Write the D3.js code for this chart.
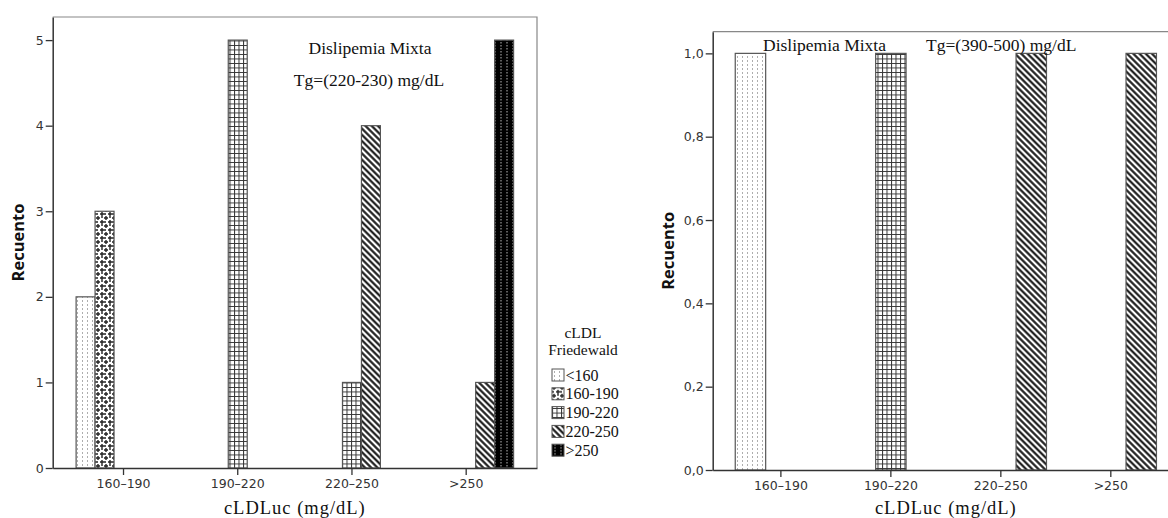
<!DOCTYPE html>
<html>
<head>
<meta charset="utf-8">
<script src="https://cdn.jsdelivr.net/npm/d3@7"></script>
<style>
    body { margin: 0; background: #fff; }
    svg { display: block; }
    .tick text { font-family: "DejaVu Sans", sans-serif; font-size: 12.5px; fill: #333; }
    .serif { font-family: "Liberation Serif", "Times New Roman", serif; fill: #111; }
    .ylab { font-family: "Open Sans", "DejaVu Sans", sans-serif; font-weight: bold; font-size: 16.5px; fill: #111; }
</style>
</head>
<body>
<div id="chart"></div>
<script>

var cldlCats = ["160-190", "190-220", "220-250", ">250"];
var cldlTickLabels = ["160\u2013190", "190\u2013220", "220\u2013250", ">250"];

// Friedewald groups (legend / fill)
var friedewaldLeft = ["<160", "160-190", "190-220", "220-250", ">250"];
var friedewaldRight = ["<160", "190-220", "220-250"];

// Tg=(220-230)
var leftLt160 = [2, 0, 0, 0];
var left160 = [3, 0, 0, 0];
var left190 = [0, 5, 1, 0];
var left220 = [0, 0, 4, 1];
var left250 = [0, 0, 0, 5];

// Tg=(390-500)
var rightLt160 = [1, 0, 0, 0];
var right190 = [0, 1, 0, 0];
var right220 = [0, 0, 1, 1];

var yTicksLeft = [0, 1, 2, 3, 4, 5];
var yTicksRight = [0, 0.2, 0.4, 0.6, 0.8, 1.0];

var patternOf = {"<160": "p-lt160", "160-190": "p-160", "190-220": "p-190", "220-250": "p-220", ">250": "p-250"};

var svg = d3.select("#chart").append("svg").attr("width", 1168).attr("height", 518);

/***********************************************************************************************************/
function makePatterns(svg) {
    var defs = svg.append("defs");

    var p = defs.append("pattern").attr("id", "p-lt160").attr("patternUnits", "userSpaceOnUse")
        .attr("width", 5).attr("height", 4);
    p.append("rect").attr("width", 5).attr("height", 4).attr("fill", "#fff");
    p.append("line").attr("x1", 2.5).attr("x2", 2.5).attr("y1", 0).attr("y2", 4)
        .attr("stroke", "#999").attr("stroke-width", 0.8).attr("stroke-dasharray", "2,2");

    p = defs.append("pattern").attr("id", "p-160").attr("patternUnits", "userSpaceOnUse")
        .attr("width", 8).attr("height", 8);
    p.append("rect").attr("width", 8).attr("height", 8).attr("fill", "#fff");
    [[2, 2], [6, 6]].forEach(function(c){
        p.append("path").attr("d", "M" + (c[0] - 2) + "," + c[1] + "h4M" + c[0] + "," + (c[1] - 2) + "v4")
            .attr("stroke", "#222").attr("stroke-width", 1.4);
    });
    p.append("path").attr("d", "M6,0v2M0,6h2M8,6h-0M6,8v0").attr("stroke", "#222").attr("stroke-width", 1.4);

    p = defs.append("pattern").attr("id", "p-190").attr("patternUnits", "userSpaceOnUse")
        .attr("width", 4.5).attr("height", 4.5);
    p.append("rect").attr("width", 4.5).attr("height", 4.5).attr("fill", "#fff");
    p.append("path").attr("d", "M0,0.5h4.5M0.5,0v4.5").attr("stroke", "#333").attr("stroke-width", 1);

    p = defs.append("pattern").attr("id", "p-220").attr("patternUnits", "userSpaceOnUse")
        .attr("width", 4.4).attr("height", 10).attr("patternTransform", "rotate(-45)");
    p.append("rect").attr("width", 4.4).attr("height", 10).attr("fill", "#fff");
    p.append("line").attr("x1", 2.2).attr("x2", 2.2).attr("y1", 0).attr("y2", 10)
        .attr("stroke", "#111").attr("stroke-width", 2.1);

    p = defs.append("pattern").attr("id", "p-250").attr("patternUnits", "userSpaceOnUse")
        .attr("width", 6).attr("height", 3);
    p.append("rect").attr("width", 6).attr("height", 3).attr("fill", "#000");
    p.append("line").attr("x1", 3).attr("x2", 3).attr("y1", 0).attr("y2", 3)
        .attr("stroke", "#ccc").attr("stroke-width", 0.9).attr("stroke-dasharray", "1.5,1.5");
}

/***********************************************************************************************************/
function drawPanel(svg, box, series, rows, yMax, yTicks, yFormat) {
    var g = svg.append("g");

    var x0 = d3.scaleBand().domain(cldlCats).range([box.left, box.right])
        .paddingInner(0.17).paddingOuter(0.205);
    var x1 = d3.scaleBand().domain(series).range([0, x0.bandwidth()]);
    var y = d3.scaleLinear().domain([0, yMax]).range([box.zero, box.top]);

    // frame top + right
    g.append("path")
        .attr("d", "M" + box.left + "," + box.top + "H" + box.right + "V" + box.zero)
        .attr("fill", "none").attr("stroke", "#888").attr("stroke-width", 1.2);

    var bars = [];
    cldlCats.forEach(function(cat, i){
        series.forEach(function(s, j){
            if(rows[j][i] > 0){
                bars.push({cat: cat, s: s, v: rows[j][i]});
            }
        });
    });

    g.selectAll("rect.bar").data(bars).enter().append("rect").classed("bar", true)
        .attr("x", function(d){ return x0(d.cat) + x1(d.s); })
        .attr("y", function(d){ return y(d.v); })
        .attr("width", x1.bandwidth())
        .attr("height", function(d){ return y(0) - y(d.v); })
        .attr("fill", function(d){ return "url(#" + patternOf[d.s] + ")"; })
        .attr("stroke", "#555").attr("stroke-width", 1.2);

    var ax = g.append("g").attr("transform", "translate(0," + box.zero + ")")
        .call(d3.axisBottom(x0).tickSize(7).tickSizeOuter(0).tickPadding(4)
            .tickFormat(function(d, i){ return cldlTickLabels[i]; }));
    ax.selectAll("line").attr("stroke", "#333").attr("stroke-width", 1.3);
    ax.select(".domain").attr("stroke", "#333").attr("stroke-width", 1.5);

    var ay = g.append("g").attr("transform", "translate(" + box.left + ",0)")
        .call(d3.axisLeft(y).tickValues(yTicks).tickSize(7).tickSizeOuter(0).tickPadding(2).tickFormat(yFormat));
    ay.selectAll("line").attr("stroke", "#333").attr("stroke-width", 1.3);
    ay.select(".domain").attr("stroke", "#333").attr("stroke-width", 1.5);

    g.append("text").classed("serif", true)
        .attr("x", (box.left + box.right) / 2).attr("y", 514)
        .attr("text-anchor", "middle").style("font-size", "18.5px").style("letter-spacing", "1px")
        .text("cLDLuc (mg/dL)");

    g.append("text").classed("ylab", true)
        .attr("transform", "translate(" + box.ylabX + "," + ((box.top + box.zero) / 2) + ") rotate(-90)")
        .attr("text-anchor", "middle").text("Recuento");

    return g;
}

makePatterns(svg);

var left = drawPanel(svg, {left: 52.7, right: 537, top: 17, zero: 468, ylabX: 24},
    friedewaldLeft, [leftLt160, left160, left190, left220, left250], 5.27, yTicksLeft, d3.format("d"));

left.append("text").classed("serif", true).attr("x", 370).attr("y", 54)
    .attr("text-anchor", "middle").style("font-size", "17.5px").text("Dislipemia Mixta");
left.append("text").classed("serif", true).attr("x", 369).attr("y", 86)
    .attr("text-anchor", "middle").style("font-size", "17.5px").text("Tg=(220-230) mg/dL");

var right = drawPanel(svg, {left: 712.7, right: 1179, top: 31.7, zero: 470, ylabX: 674},
    friedewaldRight, [rightLt160, right190, right220], 1.052, yTicksRight,
    function(d){ return d3.format(".1f")(d).replace(".", ","); });

right.append("text").classed("serif", true).attr("x", 763).attr("y", 51)
    .style("font-size", "17.5px").text("Dislipemia Mixta");
right.append("text").classed("serif", true).attr("x", 926).attr("y", 51)
    .style("font-size", "17.5px").text("Tg=(390-500) mg/dL");

// legend (left panel)
var lg = svg.append("g");
lg.append("text").classed("serif", true).attr("x", 583).attr("y", 338)
    .attr("text-anchor", "middle").style("font-size", "15.5px").text("cLDL");
lg.append("text").classed("serif", true).attr("x", 583).attr("y", 355)
    .attr("text-anchor", "middle").style("font-size", "15.5px").text("Friedewald");

var item = lg.selectAll("g.item").data(friedewaldLeft).enter().append("g").classed("item", true)
    .attr("transform", function(d, i){ return "translate(552," + (375 + i * 18.8) + ")"; });
item.append("rect").attr("x", 0).attr("y", -6).attr("width", 12).attr("height", 12)
    .attr("fill", function(d){ return "url(#" + patternOf[d] + ")"; })
    .attr("stroke", "#555").attr("stroke-width", 1);
item.append("text").classed("serif", true).attr("x", 13.5).attr("y", 5.5)
    .style("font-size", "16px").text(function(d){ return d; });

</script>
</body>
</html>
